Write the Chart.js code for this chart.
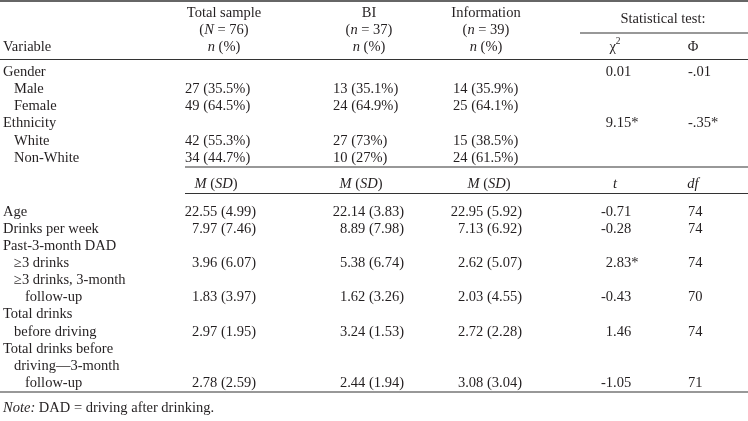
<!DOCTYPE html>
<html>
<head>
<meta charset="utf-8">
<script src="https://cdn.jsdelivr.net/npm/chart.js@4.4.1/dist/chart.umd.min.js"></script>
<style>
  body { margin: 0; background: #fff; }
  #wrap { width: 748px; height: 421px; position: relative; }
</style>
</head>
<body>
<div id="wrap"><canvas id="myChart"></canvas></div>
<script>
'use strict';
// table data, _x_ = italic, ^2 = superscript
var columnHeads = [
  ['Total sample', '(_N_ = 76)', '_n_ (%)'],
  ['BI', '(_n_ = 37)', '_n_ (%)'],
  ['Information', '(_n_ = 39)', '_n_ (%)']
];
var testTitle = 'Statistical test:';
var testHeads = ['χ^2', 'Φ'];
var firstHead = 'Variable';
var note = '_Note:_ DAD = driving after drinking.';

var rowLabels = ['Gender', 'Male', 'Female', 'Ethnicity', 'White', 'Non-White', '',
  'Age', 'Drinks per week', 'Past-3-month DAD', '≥3 drinks', '≥3 drinks, 3-month', 'follow-up',
  'Total drinks', 'before driving', 'Total drinks before', 'driving—3-month', 'follow-up'];
var totalSample = ['', '27 (35.5%)', '49 (64.5%)', '', '42 (55.3%)', '34 (44.7%)', '_M_ (_SD_)',
  '22.55 (4.99)', '7.97 (7.46)', '', '3.96 (6.07)', '', '1.83 (3.97)', '', '2.97 (1.95)', '', '', '2.78 (2.59)'];
var biGroup = ['', '13 (35.1%)', '24 (64.9%)', '', '27 (73%)', '10 (27%)', '_M_ (_SD_)',
  '22.14 (3.83)', '8.89 (7.98)', '', '5.38 (6.74)', '', '1.62 (3.26)', '', '3.24 (1.53)', '', '', '2.44 (1.94)'];
var infoGroup = ['', '14 (35.9%)', '25 (64.1%)', '', '15 (38.5%)', '24 (61.5%)', '_M_ (_SD_)',
  '22.95 (5.92)', '7.13 (6.92)', '', '2.62 (5.07)', '', '2.03 (4.55)', '', '2.72 (2.28)', '', '', '3.08 (3.04)'];
var testStat = ['0.01', '', '', '9.15*', '', '', '_t_',
  '-0.71', '-0.28', '', '2.83*', '', '-0.43', '', '1.46', '', '', '-1.05'];
var testEffect = ['-.01', '', '', '-.35*', '', '', '_df_',
  '74', '74', '', '74', '', '70', '', '74', '', '', '71'];

// layout (kept apart from the data)
var FONT_SIZE = 14.5;
var FAMILY = '"Liberation Serif", "Times New Roman", serif';
var INK = '#231f20';
var labelIndent = [0, 1, 1, 0, 1, 1, 0, 0, 0, 0, 1, 1, 2, 0, 1, 0, 1, 2];
var rowY = [72, 89.2, 106.4, 123.6, 140.8, 158, 184,
  212, 229.1, 246.2, 263.3, 280.4, 297.5, 314.6, 331.7, 348.8, 365.9, 383];
var headY = [13, 30, 47];
var colLeft = [185, 333, 453];    // n (%) rows, left aligned
var colRight = [256, 404, 522];   // M (SD) rows, right aligned
var colCenter = [224, 369, 486];  // headers
var subCenter = [216, 361, 489];  // M (SD) sub heads
var statDot = 613, effLeft = 688;
var statHeadX = [615, 693];

function segs(text) {
  var out = [], italic = false, buf = '';
  for (var i = 0; i < text.length; i++) {
    var c = text[i];
    if (c === '_') { if (buf) out.push({t: buf, i: italic}); buf = ''; italic = !italic; }
    else if (c === '^') { if (buf) out.push({t: buf, i: italic}); buf = ''; out.push({t: text[i + 1], i: italic, sup: true}); i++; }
    else buf += c;
  }
  if (buf) out.push({t: buf, i: italic});
  return out;
}
function setFont(ctx, s) {
  var size = s.sup ? FONT_SIZE * 0.65 : FONT_SIZE;
  ctx.font = (s.i ? 'italic ' : '') + size + 'px ' + FAMILY;
}
function measure(ctx, text) {
  var w = 0;
  segs(text).forEach(function(s) { setFont(ctx, s); w += ctx.measureText(s.t).width; });
  return w;
}
function rich(ctx, text, x, y, align) {
  if (!text) return;
  var w = measure(ctx, text);
  if (align === 'center') x -= w / 2;
  else if (align === 'right') x -= w;
  else if (align === 'dot') {
    var k = text.indexOf('.');
    x -= measure(ctx, k < 0 ? text : text.slice(0, k));
  }
  segs(text).forEach(function(s) {
    setFont(ctx, s);
    ctx.fillText(s.t, x, s.sup ? y - FONT_SIZE * 0.38 : y);
    x += ctx.measureText(s.t).width;
  });
}

var tablePlugin = {
  id: 'tablePlugin',
  afterDraw: function(chart) {
    var ctx = chart.ctx;
    var X = function(v) { return chart.scales.x.getPixelForValue(v); };
    var Y = function(v) { return chart.scales.y.getPixelForValue(v); };
    ctx.save();
    ctx.fillStyle = INK;
    ctx.textBaseline = 'middle';

    function rule(x0, x1, y, w) {
      ctx.beginPath();
      ctx.strokeStyle = '#333';
      ctx.lineWidth = w;
      ctx.moveTo(X(x0), Y(y));
      ctx.lineTo(X(x1), Y(y));
      ctx.stroke();
    }
    rule(0, 748, 1, 1.6);
    rule(580, 748, 33, 1.2);
    rule(0, 748, 59.5, 1.2);
    rule(185, 748, 167, 1.2);
    rule(185, 748, 193.5, 1.2);
    rule(0, 748, 392, 1.2);

    // headers
    rich(ctx, firstHead, X(3), Y(headY[2]), 'left');
    columnHeads.forEach(function(lines, c) {
      lines.forEach(function(t, r) { rich(ctx, t, X(colCenter[c]), Y(headY[r]), 'center'); });
    });
    rich(ctx, testTitle, X(663), Y(19), 'center');
    testHeads.forEach(function(t, c) { rich(ctx, t, X(statHeadX[c]), Y(headY[2]), 'center'); });

    // body
    var cols = [totalSample, biGroup, infoGroup];
    rowLabels.forEach(function(lab, r) {
      var y = Y(rowY[r]);
      rich(ctx, lab, X(3 + labelIndent[r] * 11), y, 'left');
      cols.forEach(function(col, c) {
        if (r === 6) rich(ctx, col[r], X(subCenter[c]), y, 'center');
        else if (r < 6) rich(ctx, col[r], X(colLeft[c]), y, 'left');
        else rich(ctx, col[r], X(colRight[c]), y, 'right');
      });
      if (r === 6) {
        rich(ctx, testStat[r], X(statHeadX[0]), y, 'center');
        rich(ctx, testEffect[r], X(statHeadX[1]), y, 'center');
      } else {
        rich(ctx, testStat[r], X(statDot), y, 'dot');
        rich(ctx, testEffect[r], X(effLeft), y, 'left');
      }
    });
    rich(ctx, note, X(3), Y(408), 'left');
    ctx.restore();
  }
};

var ctx = document.getElementById('myChart').getContext('2d');
new Chart(ctx, {
  type: 'scatter',
  data: { datasets: [{ data: [], pointRadius: 0 }] },
  options: {
    responsive: true,
    maintainAspectRatio: false,
    animation: false,
    events: [],
    layout: { padding: 0 },
    plugins: { legend: { display: false }, tooltip: { enabled: false } },
    scales: {
      x: { type: 'linear', min: 0, max: 748, display: false },
      y: { type: 'linear', min: 0, max: 421, reverse: true, display: false }
    }
  },
  plugins: [tablePlugin]
});
</script>
</body>
</html>
